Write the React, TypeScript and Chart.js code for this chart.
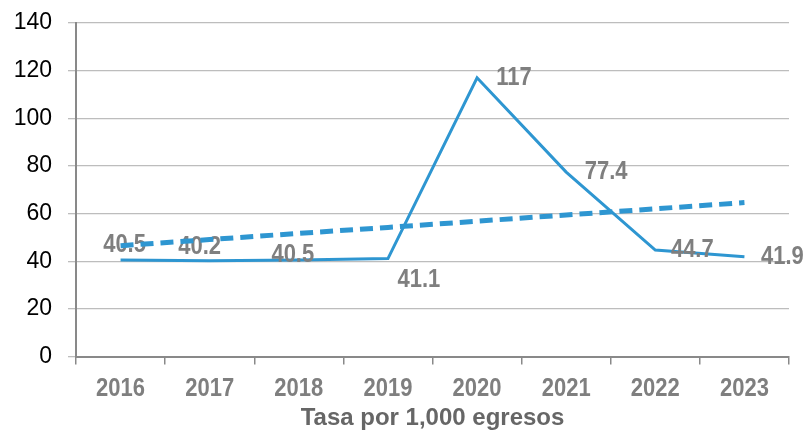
import React, { useEffect, useRef } from "react";
import { Chart, registerables } from "chart.js";

Chart.register(...registerables);

const years = ["2016", "2017", "2018", "2019", "2020", "2021", "2022", "2023"];
const tasa = [40.5, 40.2, 40.5, 41.1, 117, 77.4, 44.7, 41.9];
const tendencia = [46.5, 49.1, 51.7, 54.2, 56.8, 59.4, 62.0, 64.6];
const yTicks = [0, 20, 40, 60, 80, 100, 120, 140];
const axisTitle = "Tasa por 1,000 egresos";

// label offsets in px from each point (placement only)
const labelOffsets: [number, number][] = [
  [4, -15], [-10, -14], [-6, -5], [31, 22], [37, 0], [40, 0], [37, 0], [38, 0],
];

const BLUE = "#2E96D1";
const GRAY_TEXT = "#7f7f7f";
const SANS = '"Liberation Sans", Arial, sans-serif';
const NARROW_SCALE = 0.88;

function narrowText(ctx: CanvasRenderingContext2D, text: string, x: number, y: number) {
  ctx.save();
  ctx.translate(x, y);
  ctx.scale(NARROW_SCALE, 1);
  ctx.fillText(text, 0, 0);
  ctx.restore();
}

const labelPlugin = {
  id: "pointLabels",
  afterDatasetDraw(chart: any, args: any) {
    if (args.index !== 1) return;
    const meta = chart.getDatasetMeta(1);
    const ctx = chart.ctx;
    ctx.save();
    ctx.font = `bold 25px ${SANS}`;
    ctx.fillStyle = GRAY_TEXT;
    ctx.textAlign = "center";
    ctx.textBaseline = "middle";
    meta.data.forEach((pt: any, i: number) => {
      const [dx, dy] = labelOffsets[i];
      narrowText(ctx, String(tasa[i]), pt.x + dx, pt.y + dy);
    });
    ctx.restore();
  },
  afterDraw(chart: any) {
    const xs = chart.scales.x;
    const ctx = chart.ctx;
    ctx.save();
    ctx.font = `bold 25px ${SANS}`;
    ctx.fillStyle = GRAY_TEXT;
    ctx.textAlign = "center";
    ctx.textBaseline = "middle";
    years.forEach((y, i) => {
      narrowText(ctx, y, xs.getPixelForValue(i), xs.top + 33);
    });
    ctx.restore();
  },
};

export default function App() {
  const ref = useRef<HTMLCanvasElement>(null);
  useEffect(() => {
    if (!ref.current) return;
    const chart = new Chart(ref.current, {
      type: "line",
      data: {
        labels: years,
        datasets: [
          {
            label: "Tendencia",
            data: tendencia,
            borderColor: BLUE,
            borderWidth: 5,
            borderDash: [13, 7],
            pointRadius: 0,
            fill: false,
            tension: 0,
          },
          {
            label: "Tasa",
            data: tasa,
            borderColor: BLUE,
            borderWidth: 3,
            pointRadius: 0,
            fill: false,
            tension: 0,
          },
        ],
      },
      options: {
        responsive: false,
        animation: false,
        devicePixelRatio: 1,
        layout: { padding: { top: 23, right: 16, bottom: 0, left: 0 } },
        plugins: {
          legend: { display: false },
          tooltip: { enabled: false },
        },
        scales: {
          x: {
            offset: true,
            grid: {
              offset: true,
              drawOnChartArea: false,
              drawTicks: true,
              tickLength: 8,
              color: "#898989",
              lineWidth: 1.5,
            },
            border: { display: true, color: "#898989", width: 2 },
            ticks: {
              display: false,
            },
            title: {
              display: true,
              text: axisTitle,
              color: "#666666",
              font: { family: SANS, size: 24, weight: "bold" },
              padding: { top: 0, bottom: 0 },
            },
            afterFit: (s: any) => {
              s.height = 76.5;
              s.paddingLeft = 0;
              s.paddingRight = 0;
            },
          },
          y: {
            min: 0,
            max: 140,
            afterBuildTicks: (s: any) => {
              s.ticks = yTicks.map((v) => ({ value: v }));
            },
            grid: {
              color: "#bdbdbd",
              lineWidth: 1.3,
              tickLength: 8,
              drawTicks: true,
            },
            border: { display: true, color: "#898989", width: 2 },
            ticks: {
              color: "#000",
              font: { family: SANS, size: 23 },
              padding: 16,
            },
            afterFit: (s: any) => {
              s.width = 76;
              s.paddingTop = 0;
              s.paddingBottom = 0;
            },
          },
        },
      },
      plugins: [labelPlugin],
    });
    return () => chart.destroy();
  }, []);
  return (
    <div style={{ position: "absolute", left: 0, top: 0, width: 805, height: 433, background: "#fff" }}>
      <canvas ref={ref} width={805} height={433} style={{ width: 805, height: 433, display: "block" }} />
    </div>
  );
}
